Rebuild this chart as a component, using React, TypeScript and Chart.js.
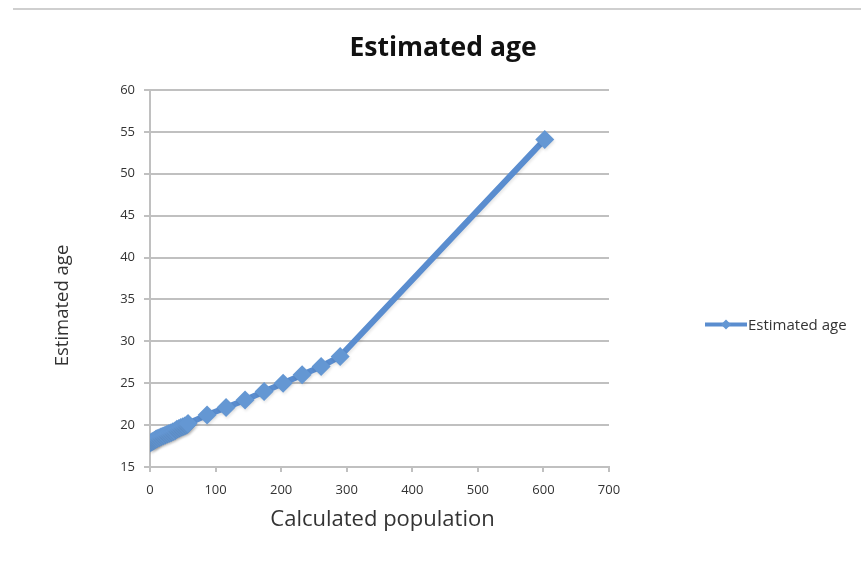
import React, { useEffect, useRef } from "react";
import { Chart, registerables } from "chart.js";

Chart.register(...registerables);

// Calculated population (x) against estimated age (y)
const population: number[] = [
  1, 3, 5, 7, 9, 11, 14, 17, 20, 23, 26, 29, 32, 35, 38, 41, 44, 47, 50, 53, 56, 58,
  87, 116, 145, 174, 203, 232, 261, 290, 602,
];
const estimatedAge: number[] = [
  17.9, 18.0, 18.1, 18.2, 18.3, 18.4, 18.5, 18.6, 18.7, 18.8, 18.9, 19.0, 19.1, 19.2, 19.3, 19.5, 19.6, 19.7, 19.8, 19.9, 20.0, 20.2,
  21.2, 22.1, 23.0, 24.0, 25.0, 26.0, 27.0, 28.2, 54.1,
];

const seriesName = "Estimated age";
const chartTitle = "Estimated age";
const xAxisTitle = "Calculated population";
const yAxisTitle = "Estimated age";

const xRange = { min: 0, max: 700, step: 100 };
const yRange = { min: 15, max: 60, step: 5 };

const FONT = "'Open Sans', 'DejaVu Sans', sans-serif";
const BLUE = "#5a8dcf";
const MARKER = "#6497d3";
const GRID = "#c0c0c0";
const TEXT = "#333333";

export default function App() {
  const canvasRef = useRef<HTMLCanvasElement | null>(null);

  useEffect(() => {
    const canvas = canvasRef.current;
    if (!canvas) return;

    // Light drop shadow under the series line and markers
    const seriesShadow = {
      id: "seriesShadow",
      beforeDatasetsDraw(chart: any) {
        const ctx = chart.ctx;
        ctx.save();
        ctx.shadowColor = "rgba(0,0,0,0.1)";
        ctx.shadowBlur = 3;
        ctx.shadowOffsetX = 1;
        ctx.shadowOffsetY = 2;
      },
      afterDatasetsDraw(chart: any) {
        chart.ctx.restore();
      },
    };

    // Chart title, axis titles and a side legend with line + diamond
    const decorations = {
      id: "decorations",
      afterDraw(chart: any) {
        const { ctx, chartArea } = chart;
        ctx.save();
        ctx.fillStyle = "#111";
        ctx.font = `bold 26.5px ${FONT}`;
        ctx.textAlign = "center";
        ctx.textBaseline = "middle";
        ctx.fillText(chartTitle, 443, 48);

        ctx.fillStyle = TEXT;
        ctx.font = `22px ${FONT}`;
        ctx.fillText(xAxisTitle, (chartArea.left + chartArea.right) / 2 + 3, chartArea.bottom + 53);

        ctx.save();
        ctx.font = `18.5px ${FONT}`;
        ctx.translate(63, (chartArea.top + chartArea.bottom) / 2 + 27);
        ctx.rotate(-Math.PI / 2);
        ctx.fillText(yAxisTitle, 0, 0);
        ctx.restore();

        const ly = (chartArea.top + chartArea.bottom) / 2 + 46;
        const lx = chartArea.right + 96;
        ctx.strokeStyle = BLUE;
        ctx.lineWidth = 4;
        ctx.beginPath();
        ctx.moveTo(lx, ly);
        ctx.lineTo(lx + 42, ly);
        ctx.stroke();
        ctx.fillStyle = MARKER;
        ctx.beginPath();
        const cx = lx + 21;
        const r = 5;
        ctx.moveTo(cx, ly - r);
        ctx.lineTo(cx + r, ly);
        ctx.lineTo(cx, ly + r);
        ctx.lineTo(cx - r, ly);
        ctx.closePath();
        ctx.fill();
        ctx.fillStyle = TEXT;
        ctx.font = `15px ${FONT}`;
        ctx.textAlign = "left";
        ctx.fillText(seriesName, lx + 43, ly + 1);
        ctx.restore();
      },
    };

    const chart = new Chart(canvas, {
      type: "scatter",
      data: {
        datasets: [
          {
            label: seriesName,
            data: population.map((p, i) => ({ x: p, y: estimatedAge[i] })),
            showLine: true,
            borderColor: BLUE,
            borderWidth: 6,
            backgroundColor: BLUE,
            pointStyle: "rectRot",
            pointRadius: 9.5,
            pointHoverRadius: 9.5,
            pointBorderWidth: 0,
            pointBackgroundColor: MARKER,
          },
        ],
      },
      options: {
        animation: false,
        responsive: true,
        maintainAspectRatio: false,
        layout: { padding: { left: 47, right: 252, top: 90, bottom: 30 } },
        plugins: {
          legend: { display: false },
          title: { display: false },
          tooltip: { enabled: false },
        },
        scales: {
          x: {
            type: "linear",
            min: xRange.min,
            max: xRange.max,
            ticks: {
              stepSize: xRange.step,
              color: TEXT,
              font: { family: FONT, size: 13 },
              padding: 10,
              maxRotation: 0,
            },
            grid: {
              drawOnChartArea: false,
              color: GRID,
              lineWidth: 2,
              tickLength: 5,
            },
            border: { display: true, color: GRID, width: 2 },
            title: { display: false },
            afterFit: (s: any) => {
              s.height = 74;
            },
          },
          y: {
            type: "linear",
            min: yRange.min,
            max: yRange.max,
            ticks: {
              stepSize: yRange.step,
              color: TEXT,
              font: { family: FONT, size: 13 },
              padding: 9,
            },
            grid: {
              color: GRID,
              lineWidth: 2,
              tickLength: 6,
            },
            border: { display: true, color: GRID, width: 2 },
            title: { display: false },
            afterFit: (s: any) => {
              s.width = 150 - 47;
            },
          },
        },
      },
      plugins: [seriesShadow, decorations],
    });

    return () => chart.destroy();
  }, []);

  return (
    <div
      style={{
        position: "fixed",
        left: 0,
        top: 0,
        width: 861,
        height: 571,
        background: "#fff",
      }}
    >
      <div
        style={{
          position: "absolute",
          left: 13,
          right: 0,
          top: 8,
          height: 0,
          borderTop: "2px solid #cfcfcf",
        }}
      />
      <canvas ref={canvasRef} />
    </div>
  );
}
